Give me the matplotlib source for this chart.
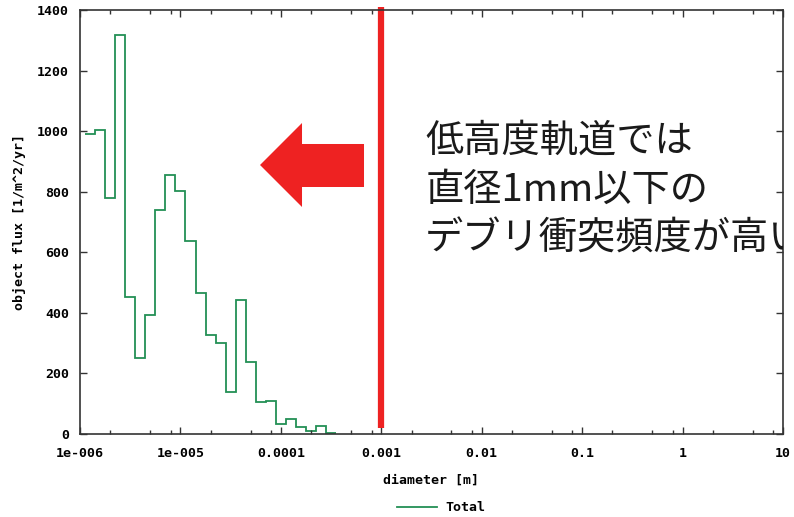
import numpy as np
import matplotlib
matplotlib.use('Agg')
from matplotlib import pyplot as plt
from matplotlib.patches import Polygon
from matplotlib.ticker import FixedLocator, NullFormatter

# histogram bins: log10 of bin-centre diameter [m], 10 bins per decade
log_d = [-5.9, -5.8, -5.7, -5.6, -5.5, -5.4, -5.3, -5.2, -5.1, -5.0,
         -4.9, -4.8, -4.7, -4.6, -4.5, -4.4, -4.3, -4.2, -4.1, -4.0,
         -3.9, -3.8, -3.7, -3.6, -3.5]
flux = [990, 1005, 778, 1318, 452, 250, 393, 740, 855, 803,
        636, 465, 326, 300, 140, 443, 238, 107, 110, 32,
        48, 24, 10, 28, 2]

xticks = [1e-6, 1e-5, 1e-4, 1e-3, 1e-2, 1e-1, 1, 10]
xlabels = ['1e-006', '1e-005', '0.0001', '0.001', '0.01', '0.1', '1', '10']
yticks = [0, 200, 400, 600, 800, 1000, 1200, 1400]
note = '低高度軌道では\n直径1mm以下の\nデブリ衝突頻度が高い'
limit_d = 1e-3

mono = {'family': 'DejaVu Sans Mono', 'weight': 'bold', 'size': 9.5}

fig = plt.figure(figsize=(7.94, 5.17), dpi=100)
ax = fig.add_axes([0.1008, 0.1605, 0.8853, 0.8202])

edges = [10 ** (v - 0.05) for v in log_d] + [10 ** (log_d[-1] + 0.05)]
ax.stairs(flux, edges, baseline=None, color='#239055', linewidth=1.3, label='Total')

ax.set_xscale('log')
ax.set_xlim(1e-6, 10)
ax.set_ylim(0, 1400)
ax.set_xticks(xticks)
ax.set_xticklabels(xlabels, fontdict=mono)
ax.set_yticks(yticks)
ax.set_yticklabels([str(v) for v in yticks], fontdict=mono)
minor = [m * 10.0 ** e for e in range(-6, 1) for m in (2, 5, 8)]
ax.xaxis.set_minor_locator(FixedLocator(minor))
ax.xaxis.set_minor_formatter(NullFormatter())
ax.tick_params(axis='both', which='major', direction='in', length=5, width=1,
               top=True, right=True, color='#333333')
ax.tick_params(axis='x', which='major', pad=9)
ax.tick_params(axis='y', which='major', pad=8)
ax.tick_params(axis='x', which='minor', direction='in', length=3, width=1,
               top=True, color='#333333')
for s in ax.spines.values():
    s.set_color('#333333')
    s.set_linewidth(1.2)

ax.set_xlabel('diameter [m]', fontdict=mono, labelpad=10)
ax.set_ylabel('object flux [1/m^2/yr]', fontdict=mono, labelpad=8)

# red marker at 1 mm
ax.axvline(limit_d, ymin=0.014, ymax=1.008, color='#ee2222', linewidth=4.5,
           clip_on=False, solid_capstyle='butt')

# block arrow pointing left (axes fraction)
def af(px, py):
    return ((px - 80) / 703.0, (434 - py) / 424.0)

arrow_pts = [af(364, 144), af(302, 144), af(302, 123), af(260, 165),
             af(302, 207), af(302, 187), af(364, 187)]
ax.add_patch(Polygon(arrow_pts, closed=True, transform=ax.transAxes,
                     facecolor='#ee2222', edgecolor='none'))

# note runs past the right spine and is cut there, as in the original
ax.text(0.491, 0.737, note, transform=ax.transAxes, ha='left', va='top',
        fontsize=27.5, family=['Noto Sans CJK JP', 'DejaVu Sans'],
        color='#1a1a1a', linespacing=1.33, clip_on=True)

fig.legend(loc='center', bbox_to_anchor=(0.556, 0.018), frameon=False,
           prop=mono, handlelength=3.0, handletextpad=0.7)

fig.savefig('out.png', dpi=100)
